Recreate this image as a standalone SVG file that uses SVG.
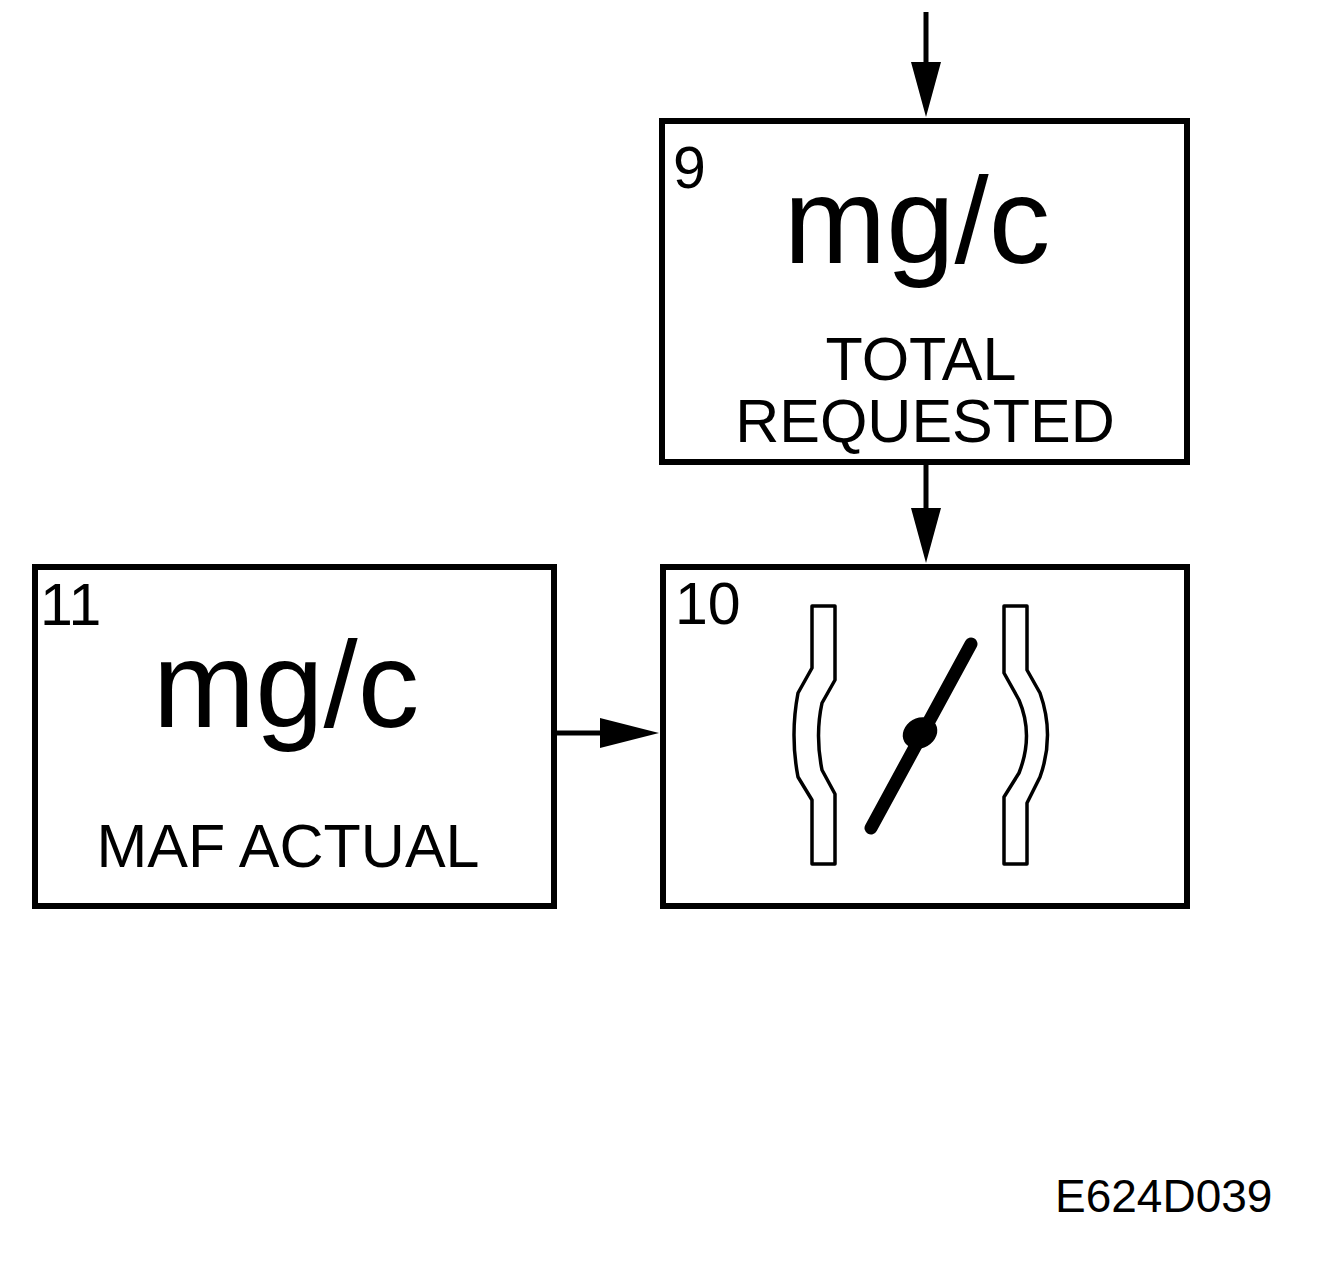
<svg xmlns="http://www.w3.org/2000/svg" width="1324" height="1264" viewBox="0 0 1324 1264">
<defs>
<style>
.box{fill:#fff;stroke:#000;stroke-width:6}
.t{font-family:"Liberation Sans",Arial,sans-serif;fill:#000}
.num{font-size:59px}
.big{font-size:123px;text-anchor:middle}
.lbl{font-size:61px;text-anchor:middle}
.conn{stroke:#000;stroke-width:5;fill:none}
.wall{fill:#fff;stroke:#000;stroke-width:3.5;stroke-linejoin:round}
</style>
</defs>
<rect width="1324" height="1264" fill="#fff"/>
<g id="connectors">
<line class="conn" x1="926" y1="12" x2="926" y2="70"/>
<path d="M911,62 L941,62 L926,117 Z" fill="#000"/>
<line class="conn" x1="926" y1="465" x2="926" y2="515"/>
<path d="M911,508 L941,508 L926,563 Z" fill="#000"/>
<line class="conn" x1="556" y1="733" x2="605" y2="733"/>
<path d="M600,718 L600,748 L659,733 Z" fill="#000"/>
</g>
<g id="node9">
<rect class="box" x="662" y="121" width="525" height="341"/>
<text class="t num" x="673" y="188">9</text>
<text class="t big" x="917" y="263">mg/c</text>
<text class="t lbl" x="921" y="380">TOTAL</text>
<text class="t lbl" x="925" y="442">REQUESTED</text>
</g>
<g id="node10">
<rect class="box" x="663" y="567" width="524" height="339"/>
<text class="t num" x="675" y="624">10</text>
<path class="wall" d="M812,606 L835,606 L835,680 L822,703 Q815,735 822,770 L835,794 L835,864 L812,864 L812,800 L798,777 Q790,735 798,693 L812,668 Z"/>
<path class="wall" d="M1004,606 L1027,606 L1027,670 L1040,693 Q1055,735 1040,777 L1027,803 L1027,864 L1004,864 L1004,797 L1019,773 Q1034,735 1019,700 L1004,673 Z"/>
<line x1="871" y1="828" x2="971" y2="644" stroke="#000" stroke-width="13" stroke-linecap="round"/>
<ellipse cx="920" cy="733" rx="18" ry="15" transform="rotate(-30 920 733)" fill="#000"/>
</g>
<g id="node11">
<rect class="box" x="35" y="567" width="519" height="339"/>
<text class="t num" x="40" y="625">11</text>
<text class="t big" x="286" y="727">mg/c</text>
<text class="t lbl" x="288" y="867">MAF ACTUAL</text>
</g>
<text class="t" x="1055" y="1212" font-size="46">E624D039</text>
</svg>
